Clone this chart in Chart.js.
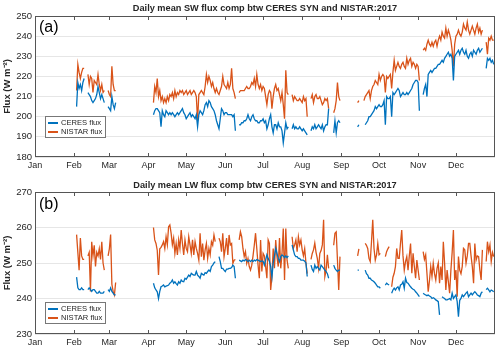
<!DOCTYPE html>
<html lang="en">
<head>
  <meta charset="UTF-8">
  <title>Daily mean flux comp btw CERES SYN and NISTAR:2017</title>
  <script src="https://cdn.jsdelivr.net/npm/chart.js"></script>
  <style>
    body { margin: 0; background: #fff; }
    #wrap { position: relative; width: 500px; height: 351px; font-family: "Liberation Sans", Arial, sans-serif; color: #000; }
    .panel { position: absolute; left: 0; width: 500px; }
    .title { position: absolute; left: 35px; width: 460px; text-align: center; font-size: 9.2px; font-weight: bold; line-height: 10px; color: #262626; }
    .tag { position: absolute; font-size: 16px; line-height: 16px; }
    .legend { position: absolute; background: #fff; border: 1px solid #777; font-size: 7.6px; line-height: 9px; padding: 1px 3px 1px 2px; white-space: nowrap; color: #262626; }
    .legend .swatch { display: inline-block; width: 10px; border-top: 2px solid; vertical-align: middle; margin-right: 3px; }
  </style>
</head>
<body>
<div id="wrap">
  <div class="panel" style="top:0;height:175px"><canvas id="swChart" width="500" height="175"></canvas></div>
  <div class="panel" style="top:175px;height:176px"><canvas id="lwChart" width="500" height="176"></canvas></div>
  <div class="title" style="top:3px">Daily mean SW flux comp btw CERES SYN and NISTAR:2017</div>
  <div class="title" style="top:180px">Daily mean LW flux comp btw CERES SYN and NISTAR:2017</div>
  <div class="tag" style="left:39px;top:19px">(a)</div>
  <div class="tag" style="left:39px;top:196px">(b)</div>
  <div class="legend" id="swLegend" style="left:45px;top:116px"></div>
  <div class="legend" id="lwLegend" style="left:45px;top:302px"></div>
</div>

<script>
  // x axis is day of year 2017 (0 = Jan 1), one value per day starting at firstDay
  const firstDay = 33;
  const monthDays = [0, 31, 59, 90, 120, 151, 181, 212, 243, 273, 304, 334];
  const monthLabels = ['Jan', 'Feb', 'Mar', 'Apr', 'May', 'Jun', 'Jul', 'Aug', 'Sep', 'Oct', 'Nov', 'Dec'];
  const swTicks = [180, 190, 200, 210, 220, 230, 240, 250];
  const lwTicks = [230, 240, 250, 260, 270];
  const N = null;

  // (a) shortwave, W m-2
  const swCeres = [
    205, 217, 214, 216, 213, 217, 219, N, N,
    212, 211, 210, 208, 207, 208, 209, 211, 215, 212, 209, 211, 209, 207, N, N,
    205, 204, 203, 210, 206, 204, 207,
    N, N, N, N, N, N, N, N, N, N, N, N, N, N, N, N, N, N, N, N, N, N, N, N, N, N, N, N, N,
    201, 203, 204, 204, 203, 202, 195, 203, 201, 200, 203, 202, 201, 202, 201, 202, 201, 200,
    201, 202, 201, 202, 203, 204, 202, 201, 199, 200, 201, 202, 200, 201, 200, 199, 201, 195,
    201, 203, 202, 201, 203, 206, 207, 205, 208, 207, 205, 204, 203, 201, 198,
    196, 194, 199, 204, 203, 201, 202, 202, 201, 201, 201, 201, 200, 201, 193, N, N,
    196, 196, 197, 197, 198, 198, 199, 201, 199, 198, 200, 201, 199, 198, 198, 197, 197, 198, 198, 199,
    197, 198, 194, 196, 199, 201, 195, 192, 196, 196, 194, 197, 195, 195, 193, 187, 192, 197, 194, 195, N, N,
    194, 196, 194, 195, 194, 194, 195, 194, 193, 194, 193, 192, 191, N, N,
    193, 195, 194, 196, 194, 195, 196, 195, 194, 196, 193, 195, 196, 196, 204, N, N, N,
    192, 198, 192, 197, 198, 197,
    N, N, N, N, N, N, N, N, N, N, N, N, N,
    195, 196, N, N, N, N,
    196, 197, 198, 200, 200, 201, 202, 203, 205, 204, 205, 206, 205, 205, 206, 208, 196, 210, 209,
    209, 210, 200, 212, 211, 212, 213, 214, 213, 210, 211, 212, 211, 211, 212, 211, 212, 213, 214,
    216, 217, 218, 218, 217, 203, N, N,
    211, 214, 216, 210, 221, 222, 223, 222, 223, 224, 224, 225, 226, 226, 227, 228, 227, 229, 230, 231,
    232, 230, 231, 229, 218, 230, 231, 232, 233, 231, 233, 234, 232, 231, 233, 230, 229, 231, 232, 230,
    233, 232, 231, 233, 234, 232, 233, 234, N, N,
    224, 229, 228, 229, 227, 228, 226
  ];
  const swNistar = [
    213, 226, 222, 219, 222, 224, 224, N, N,
    221, 216, 220, 219, 212, 218, 217, 216, 221, 216, 213, 216, 212, 213, N, N,
    213, 211, 210, 225, 216, 213, 213,
    N, N, N, N, N, N, N, N, N, N, N, N, N, N, N, N, N, N, N, N, N, N, N, N, N, N, N, N, N,
    207, 215, 212, 219, 210, 213, 208, 210, 207, 209, 207, 210, 208, 211, 210, 212, 209, 213,
    210, 212, 211, 213, 212, 213, 211, 212, 213, 211, 212, 213, 211, 212, 213, 212, 210, 198,
    211, 212, 213, 212, 211, 215, 221, 217, 220, 218, 215, 217, 214, 212, 214,
    212, 211, 213, 215, 220, 216, 215, 214, 217, 214, 216, 224, 214, 212, 209, N, N,
    212, 213, 213, 213, 213, 214, 215, 214, 214, 215, 217, 216, 219, 215, 221, 216, 214, 216, 213, 215,
    214, 210, 206, 211, 213, 212, 204, 210, 214, 216, 213, 214, 211, 208, 212, 206, 199, 223, 212, 211, N, N,
    211, 208, 210, 209, 208, 208, 209, 208, 207, 210, 208, 209, 200, N, N,
    209, 211, 207, 210, 211, 209, 209, 210, 208, 206, 207, 209, 208, 209, 204, N, N, N,
    202, 204, 208, 217, 210, 208,
    N, N, N, N, N, N, N, N, N, N, N, N, N,
    207, 208, N, N, N,
    208, 210, 211, 212, 213, 209, 213, 215, 216, 218, 217, 216, 221, 218, 220, 221, 220, 212, 220, 219,
    220, 221, 214, 222, 228, 223, 225, 227, 225, 224, 226, 227, 225, 224, 229, 226, 228, 229, 225,
    227, 226, 224, 226, 225, 218, N, N,
    233, 234, 233, 236, 238, 236, 235, 237, 235, 237, 238, 235, 238, 240, 238, 242, 240, 239, 244, 240,
    243, 241, 238, 233, 225, 236, 240, 241, 243, 241, 240, 242, 246, 244, 243, 247, 243, 241, 243, 245,
    243, 241, 244, 246, 242, 244, 241, 243, N, N,
    237, 231, 239, 238, 240, 238, 238
  ];

  // (b) longwave, W m-2
  const lwCeres = [
    246, 243, 242.5, 242.5, 243, 242.5, 242.5, N, N,
    242.5, 243, 242.5, 242, 242.5, 242.5, 242, 241.5, 241.5, 242, 241.5, 241.5, 241.5, 242, N, N,
    242.5, 242, 243, 242, 241.5, 241, 241,
    N, N, N, N, N, N, N, N, N, N, N, N, N, N, N, N, N, N, N, N, N, N, N, N, N, N, N, N, N,
    244.3, 243, 242.4, 241.9, 240, 242, 243.3, 243.5, 243.8, 243.3, 243.5, 243.6, 243.8, 244.3, 244.6, 245.2, 244.3, 244.7,
    244.2, 243.8, 244.7, 244.3, 245.2, 244.8, 244.7, 245.7, 245.4, 246, 246.6, 246.2, 247.1, 246.8, 246.6, 246.6, 247.6, 246.6,
    246.2, 245.7, 247.1, 246.8, 246.6, 247.3, 247.1, 247.6, 248, 247.6, 249, 249.4, 250, 250.4, N, N,
    251.8, 250.4, 248.5, 248.5, 248, 247.6, 248.3, 248.3, 248.5, 248.5, 248.7, 249.4, 249, 245.7, N, N,
    250.8, 250.6, 250.4, 250.8, 250.6, 251, 250.8, 250.4, 250.8, 250.4, 250.8, 250.4, 250.8, 250.6, 251, 250.8, 250.6, 250.4, 250.6, 250.5,
    249.4, 250.8, 252.3, 251.3, 250.5, 249, 246, 250, 252, 254.1, 252.7, 251.3, 250.4, 251.8, 252.3, 252, 251.5, 252, 251.5, 252, N, N,
    255.1, 253.7, 252.3, 251.8, 251.8, 251.3, 251.3, 250.8, 250.8, 250.8, 250.5, 250, 246.2, N, N,
    249.4, 248.2, 247.6, 249.4, 248.5, 249, 248.5, 248, 249.4, 249, 248.5, 248, 247.6, 247, 245.7, N, N, N,
    249.4, 248.5, 248, 247.6, 248, 248,
    N, N, N, N, N, N, N, N, N, N, N, N, N,
    248, 248, N, N, N, N,
    248, 247, 246.6, 245.7, 245.7, 245.2, 245, 244.7, 244.3, 243.8, 243.3, 243.3, 242.9, N, N, N,
    243.8, 244.3, 244, 243.8, N,
    241.5, 242.4, 242.9, 242.4, 243, 243.3, 242.4, 243.8, 244, 244.7, 242.9, 245.7, 244.5, 244.3, 243.8, 243.3, 242.9,
    242.6, 242.4, 241.9, 241.5, 241, 240.5, N, N,
    241.5, 241.2, 241, 240.8, 241, 240.7, 240.5, 240, 240.2, 240, 239.6, 239.4, 239.1, 235.4, N,
    240.5, 240.2, 240, 239.6, 239.6, 239.8, 240, 239.6, 241.5, 240, 240.5, 241, 239.1, 234.9, 239.5,
    240, 241, 240.5, 241, 241.5, 241.9, 240.5, 241, 241.5, 241, 241.5, 241.9, 241.5, 241, 240.8,
    240.5, 241.5, 241.9, N, N,
    242.5, 242.9, 242.4, 241.9, 242.4, 242.2, 241.9
  ];
  const lwNistar = [
    258, 253, 248, 257, 252, 251, 251, N, N,
    252, 253, 242, 256, 252, 255, 249, 253, 252, 254, 251, 256, 250, 248, N, N,
    252, 254, 258, 244, 242, 241, 244.5,
    N, N, N, N, N, N, N, N, N, N, N, N, N, N, N, N, N, N, N, N, N, N, N, N, N, N, N, N, N,
    260, 256.5, 255.5, 253.6, 246.6, 254, 254.4, 255.1, 256, 254.1, 257.4, 255.1, 260.2, 260.7, 258.4, 255.1, 257, 252.7,
    255.5, 252.3, 256.5, 254.1, 259.3, 255.5, 252.3, 256.5, 254.1, 253.2, 257.4, 255.1, 252.7, 256.5, 252.3, 256, 254.1, 252.7,
    250.8, 258.4, 251.8, 255.5, 250.8, 253.7, 255.5, 251.3, 254.1, 252.3, 256, 255, 257.9, 256, N, N,
    257, 256, 253.2, 258.4, 251.8, 254.1, 257, 252.3, 257.9, 255.1, 255.5, 249.9, 250.8, 251, N, N,
    256.5, 258.8, 257.4, 254.1, 251.8, 253.2, 249.9, 251.3, 249, 248, 249.4, 252, 255, 258.4, 254, 249.4, 245.7, 256.5, 247.6, 252.7,
    252, 249, 245.7, 256.5, 255.5, 242.4, 246.2, 254.1, 248.5, 256.5, 251.8, 249, 257, 248.5, 252.7, 259.7, 245.2, 259.7, 250.8, 248.5, N, N,
    257.4, 254.1, 255.1, 256.5, 253.2, 257.4, 255.1, 256.5, 253.7, 252, 254, 250, 247, N, N,
    251, 252.7, 253.7, 255.6, 253, 251.3, 248.5, 252.7, 253.5, 255.1, 262.2, 246.2, 248, 252.3, 248.5, N, N, N,
    255, 258.4, 258.8, 250.8, 242.4, 251.8,
    N, N, N, N, N, N, N, N, N, N, N, N, N,
    252, 254, N, N, N, N,
    255.5, 255, 254.1, 251.3, 250.4, 256, 262.2, 254.1, 250.8, 252.3, 255.5, 252.3, 252.7, N, N, N,
    251.8, 253.2, 254, 254.6, N,
    243.3, 246, 247.1, 249, 254.1, 251.3, 251.3, 255.5, 259.3, 252, 248, 250.4, 251.8, 248, 252, 255.5, 247.1,
    252.7, 249, 245.7, 250.8, 248, 245.2, N, N,
    253.2, 251, 252.3, 247.1, 241.9, 245, 249, 246.2, 249.9, 247, 245.2, 248.5, 250, 244.3, 249,
    245.2, 256, 250, 242.4, 248, 244.7, 241.5, 248, 253, 259.3, 245.2, 248, 240.5, 251.8, 248,
    247, 249, 254.1, 253.7, 249.9, 252, 255.5, 255.5, 252, 249, 244.3, 255.5, 250.8, 252, 251.8,
    248, 245.2, 253.7, N, N,
    250.4, 256, 253.2, 255.1, 250.4, 253, 251.8
  ];

  const ceresColor = '#0072BD';
  const nistarColor = '#D95319';
  const textColor = '#262626';
  const fontFamily = '"Liberation Sans", Arial, sans-serif';

  function toPoints(values) {
    return values.map((v, i) => ({ x: firstDay + i, y: v }));
  }

  // box round the plot + small inward ticks on top and bottom, like matlab
  const boxPlugin = {
    id: 'box',
    afterDraw(chart) {
      const { ctx, chartArea: a, scales } = chart;
      ctx.save();
      ctx.strokeStyle = '#555';
      ctx.lineWidth = 1;
      ctx.strokeRect(a.left + 0.5, a.top + 0.5, a.right - a.left - 1, a.bottom - a.top - 1);
      ctx.beginPath();
      scales.x.ticks.forEach(t => {
        const px = Math.round(scales.x.getPixelForValue(t.value)) + 0.5;
        ctx.moveTo(px, a.bottom);
        ctx.lineTo(px, a.bottom - 4);
        ctx.moveTo(px, a.top);
        ctx.lineTo(px, a.top + 4);
      });
      ctx.stroke();
      ctx.restore();
    }
  };

  function drawPanel(canvasId, legendId, ceres, nistar, yTicks, topPad, xHeight) {
    const chart = new Chart(document.getElementById(canvasId), {
      type: 'line',
      data: {
        datasets: [
          { label: 'CERES flux', data: toPoints(ceres), borderColor: ceresColor, borderWidth: 1.3, pointRadius: 0, tension: 0 },
          { label: 'NISTAR flux', data: toPoints(nistar), borderColor: nistarColor, borderWidth: 1.3, pointRadius: 0, tension: 0 }
        ]
      },
      options: {
        responsive: false,
        animation: false,
        layout: { padding: { left: 0, right: 5, top: topPad, bottom: 0 } },
        plugins: {
          legend: { display: false },
          tooltip: { enabled: false },
          title: { display: false }
        },
        scales: {
          x: {
            type: 'linear',
            min: 0,
            max: 365,
            afterBuildTicks: scale => { scale.ticks = monthDays.map(v => ({ value: v })); },
            afterFit: scale => { scale.height = xHeight; },
            ticks: {
              autoSkip: false,
              maxRotation: 0,
              padding: 3,
              color: textColor,
              font: { family: fontFamily, size: 9 },
              callback: v => monthLabels[monthDays.indexOf(v)]
            },
            grid: { display: false, drawTicks: false, tickLength: 0 },
            border: { display: false }
          },
          y: {
            min: yTicks[0],
            max: yTicks[yTicks.length - 1],
            afterBuildTicks: scale => { scale.ticks = yTicks.map(v => ({ value: v })); },
            afterFit: scale => { scale.width = 35; },
            ticks: {
              padding: 3,
              color: textColor,
              font: { family: fontFamily, size: 9.5 }
            },
            grid: { color: '#e6e6e6', drawTicks: false, tickLength: 0 },
            border: { display: false },
            title: {
              display: true,
              text: 'Flux (W m\u207B\u00B2)',
              color: textColor,
              font: { family: fontFamily, size: 9.5, weight: 'bold' },
              padding: { top: 2, bottom: 0 }
            }
          }
        }
      },
      plugins: [boxPlugin]
    });

    // legend box drawn as html from the datasets
    const legend = document.getElementById(legendId);
    chart.data.datasets.forEach(ds => {
      const row = document.createElement('div');
      row.innerHTML = '<span class="swatch" style="border-color:' + ds.borderColor + '"></span>' + ds.label;
      legend.appendChild(row);
    });
  }

  drawPanel('swChart', 'swLegend', swCeres, swNistar, swTicks, 16, 18);
  drawPanel('lwChart', 'lwLegend', lwCeres, lwNistar, lwTicks, 17, 17);
</script>
</body>
</html>
